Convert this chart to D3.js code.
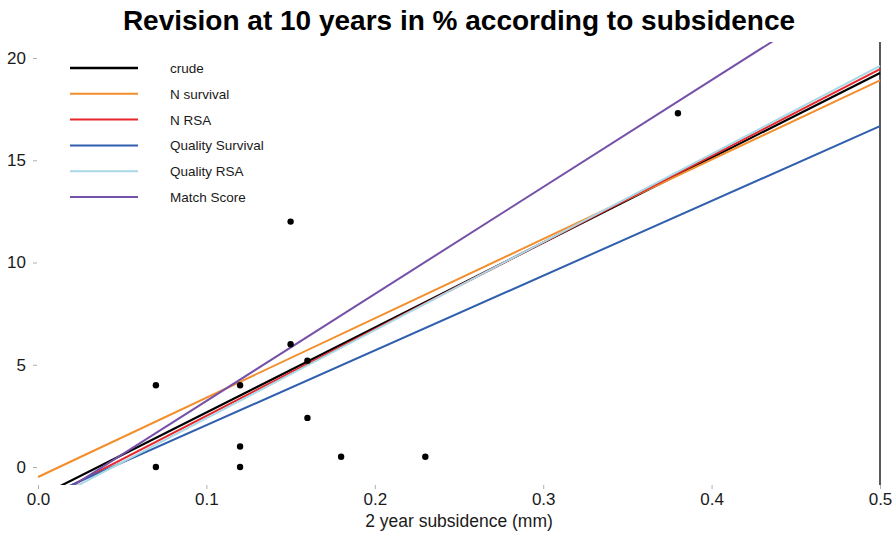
<!DOCTYPE html>
<html>
<head>
<meta charset="utf-8">
<script src="https://cdn.jsdelivr.net/npm/d3@7"></script>
<style>
 body{margin:0;background:#fff;}
 text{font-family:"Liberation Sans",Arial,sans-serif;}
</style>
</head>
<body>
<div id="chart"></div>
<script>
// observed points
var subsidence = [0.07, 0.07, 0.12, 0.12, 0.12, 0.15, 0.15, 0.16, 0.16, 0.18, 0.23, 0.38];
var revision   = [4, 0, 4, 1, 0, 12, 6, 5.2, 2.4, 0.5, 0.5, 17.3];

// fitted lines (intercept, slope)
var models     = ["crude", "N survival", "N RSA", "Quality Survival", "Quality RSA", "Match Score"];
var intercepts = [-1.48, -0.49, -1.74, -1.61, -1.92, -2.0];
var slopes     = [41.5, 38.8, 42.4, 36.55, 43.06, 52.3];
var colors     = ["#000000", "#f28e2b", "#e8262b", "#2f5fae", "#a9d8e6", "#7551a8"];

var xTicks = [0, 0.1, 0.2, 0.3, 0.4, 0.5];
var yTicks = [0, 5, 10, 15, 20];

var width = 895, height = 536;
var svg = d3.select("#chart").append("svg").attr("width", width).attr("height", height);

var x = d3.scaleLinear().domain([0, 0.5]).range([38, 880]);
var y = d3.scaleLinear().domain([0, 20]).range([467, 58]);
var pLeft = 33, pRight = 895, pTop = 42, pBottom = 485;

svg.append("clipPath").attr("id", "clip").append("rect")
   .attr("x", pLeft).attr("y", pTop).attr("width", pRight - pLeft).attr("height", pBottom - pTop);

// title
svg.append("text").attr("x", 459).attr("y", 30).attr("text-anchor", "middle")
   .style("font-size", "28px").style("font-weight", "bold").text("Revision at 10 years in % according to subsidence");

// axes
var yAxis = svg.append("g").attr("transform", "translate(" + pLeft + ",0)")
   .call(d3.axisLeft(y).tickValues(yTicks).tickSize(4).tickPadding(3));
var xAxis = svg.append("g").attr("transform", "translate(0," + pBottom + ")")
   .call(d3.axisBottom(x).tickValues(xTicks).tickSize(4).tickPadding(4).tickFormat(d3.format(".1f")));
[xAxis, yAxis].forEach(function(a){
  a.select(".domain").remove();
  a.selectAll("line").attr("stroke", "#b0b0b0");
  a.selectAll("text").style("font-size", "17px").attr("fill", "#1a1a1a");
});
yAxis.selectAll("line").attr("transform", "translate(4,0)");

svg.append("text").attr("x", 459).attr("y", 527).attr("text-anchor", "middle")
   .style("font-size", "17.5px").attr("fill", "#1a1a1a").text("2 year subsidence (mm)");

// vline at 0.5
svg.append("line").attr("x1", x(0.5)).attr("x2", x(0.5)).attr("y1", pTop).attr("y2", pBottom)
   .attr("stroke", "#000").attr("stroke-width", 1.3);

var plot = svg.append("g").attr("clip-path", "url(#clip)");

// regression lines
var xs = [0, 0.5];
models.forEach(function(m, i){
  var line = d3.line().x(function(d){ return x(d); }).y(function(d){ return y(intercepts[i] + slopes[i] * d); });
  plot.append("path").datum(xs).attr("d", line).attr("fill", "none")
      .attr("stroke", colors[i]).attr("stroke-width", i == 0 ? 2.2 : 2);
});

// points
plot.selectAll("circle").data(subsidence).enter().append("circle")
    .attr("cx", function(d){ return x(d); })
    .attr("cy", function(d, i){ return y(revision[i]); })
    .attr("r", 3.2).attr("fill", "#000");

// legend
var lg = svg.append("g");
models.forEach(function(m, i){
  var yy = 68 + i * 25.8;
  lg.append("line").attr("x1", 70).attr("x2", 138).attr("y1", yy).attr("y2", yy)
    .attr("stroke", colors[i]).attr("stroke-width", i == 0 ? 2.4 : 2);
  lg.append("text").attr("x", 170).attr("y", yy + 5).style("font-size", "13.5px").attr("fill", "#1a1a1a").text(m);
});
</script>
</body>
</html>
